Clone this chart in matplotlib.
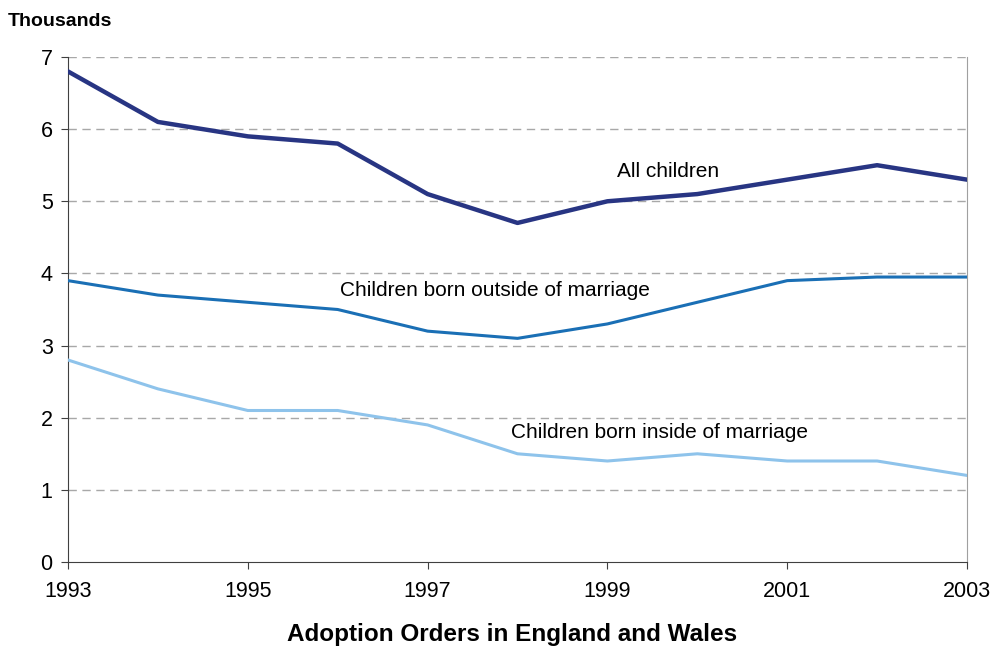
import matplotlib
matplotlib.use("Agg")
import matplotlib.pyplot as plt

years = [1993, 1994, 1995, 1996, 1997, 1998, 1999, 2000, 2001, 2002, 2003]
all_children = [6.8, 6.1, 5.9, 5.8, 5.1, 4.7, 5.0, 5.1, 5.3, 5.5, 5.3]
outside_marriage = [3.9, 3.7, 3.6, 3.5, 3.2, 3.1, 3.3, 3.6, 3.9, 3.95, 3.95]
inside_marriage = [2.8, 2.4, 2.1, 2.1, 1.9, 1.5, 1.4, 1.5, 1.4, 1.4, 1.2]
x_ticks = [1993, 1995, 1997, 1999, 2001, 2003]
y_ticks = [0, 1, 2, 3, 4, 5, 6, 7]

plt.rcParams['font.family'] = ['Liberation Sans', 'DejaVu Sans']

fig = plt.figure(figsize=(9.9, 6.48), dpi=100)
ax = fig.add_axes([68/990, 1 - 562/648, (967-68)/990, (562-57)/648])

for y in y_ticks[1:]:
    ax.axhline(y, color='#a8a8a8', lw=1, ls=(0, (6, 4)), zorder=1)

ax.plot(years, inside_marriage, color='#8ec3eb', lw=2.2, zorder=3)
ax.plot(years, outside_marriage, color='#1a6fb5', lw=2.2, zorder=3)
ax.plot(years, all_children, color='#283583', lw=3.2, zorder=4)

ax.set_xlim(1993, 2003)
ax.set_ylim(0, 7)
ax.set_xticks(x_ticks)
ax.set_yticks(y_ticks)
ax.tick_params(labelsize=15.5, direction='out', length=5, color='#404040')
ax.tick_params(axis='x', pad=9)
ax.tick_params(axis='y', pad=6)

ax.spines['top'].set_visible(False)
ax.spines['right'].set_color('#a0a0a0')
ax.spines['left'].set_color('#404040')
ax.spines['bottom'].set_color('#404040')

ax.text(1999.67, 5.41, 'All children', fontsize=15, ha='center', va='center')
ax.text(1996.03, 3.76, 'Children born outside of marriage', fontsize=15, ha='left', va='center')
ax.text(1997.93, 1.79, 'Children born inside of marriage', fontsize=15, ha='left', va='center')

fig.text(8/990, 1 - 22/648, 'Thousands', fontsize=14, fontweight='bold', ha='left', va='center')
fig.text(512/990, 1 - 634/648, 'Adoption Orders in England and Wales', fontsize=17.5, fontweight='bold', ha='center', va='center')

fig.savefig('out.png', dpi=100)
